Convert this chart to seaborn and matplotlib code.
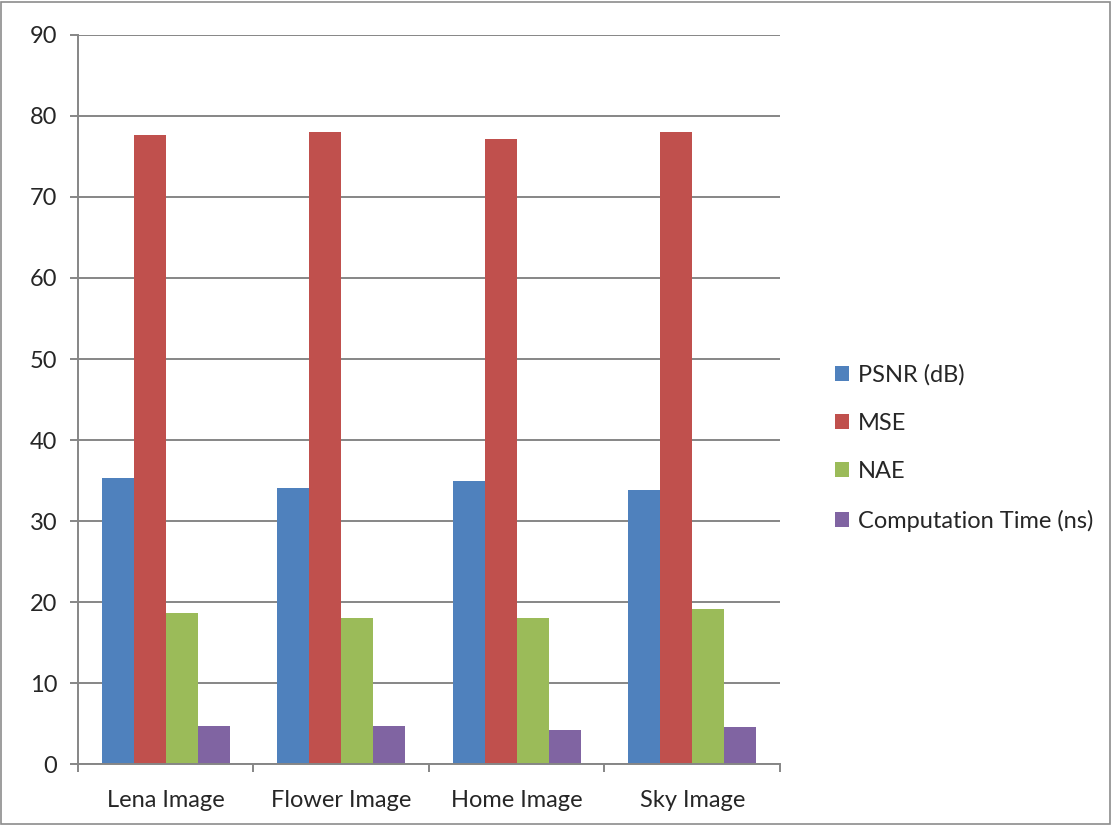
import matplotlib.pyplot as plt
import seaborn as sns
import pandas as pd
from matplotlib.patches import Rectangle

images = ["Lena Image", "Flower Image", "Home Image", "Sky Image"]
metrics = ["PSNR (dB)", "MSE", "NAE", "Computation Time (ns)"]
psnr = [35.3, 34.1, 34.9, 33.8]
mse = [77.6, 78.0, 77.1, 78.0]
nae = [18.7, 18.0, 18.0, 19.1]
comp_time = [4.7, 4.7, 4.2, 4.6]
colors = ["#4F81BD", "#C0504D", "#9BBB59", "#8064A2"]

rows = []
for name, vals in zip(metrics, [psnr, mse, nae, comp_time]):
    for img, v in zip(images, vals):
        rows.append({"image": img, "metric": name, "value": v})
df = pd.DataFrame(rows)

sns.set_style("white")
plt.rcParams["font.family"] = ["Lato", "DejaVu Sans"]

fig = plt.figure(figsize=(11.12, 8.25), dpi=100)
ax = fig.add_axes([0.0701, 0.0739, 0.6313, 0.8837])

sns.barplot(data=df, x="image", y="value", hue="metric", palette=colors,
            saturation=1, width=0.73, ax=ax, edgecolor="none")

grid_c = "#868686"
ax.set_ylim(0, 90)
ax.set_xlim(-0.5, 3.5)
ax.set_yticks(range(0, 91, 10))
ax.yaxis.grid(True, color=grid_c, linewidth=1.4)
ax.set_axisbelow(True)
ax.set_xlabel("")
ax.set_ylabel("")

for s in ["top", "right"]:
    ax.spines[s].set_visible(False)
for s in ["left", "bottom"]:
    ax.spines[s].set_color(grid_c)
    ax.spines[s].set_linewidth(1.4)

ax.tick_params(axis="y", length=6, width=1.4, color=grid_c, labelsize=17, pad=9, left=True)
ax.tick_params(axis="x", which="major", length=0, labelsize=17, pad=19)
ax.set_xticks([-0.5, 0.5, 1.5, 2.5, 3.5], minor=True)
ax.tick_params(axis="x", which="minor", length=6, width=1.4, color=grid_c, bottom=True)

handles, labels = ax.get_legend_handles_labels()
ax.legend_.remove()
fig.legend(handles, labels, loc="center left", bbox_to_anchor=(0.732, 0.457),
           frameon=False, fontsize=17, handlelength=0.6, handleheight=0.6,
           handletextpad=0.35, labelspacing=1.15)

fig.patches.append(Rectangle((0.001, 0.001), 0.997, 0.997, transform=fig.transFigure,
                             fill=False, edgecolor="#8c8c8c", linewidth=1.2))

fig.savefig("out.png", dpi=100)
